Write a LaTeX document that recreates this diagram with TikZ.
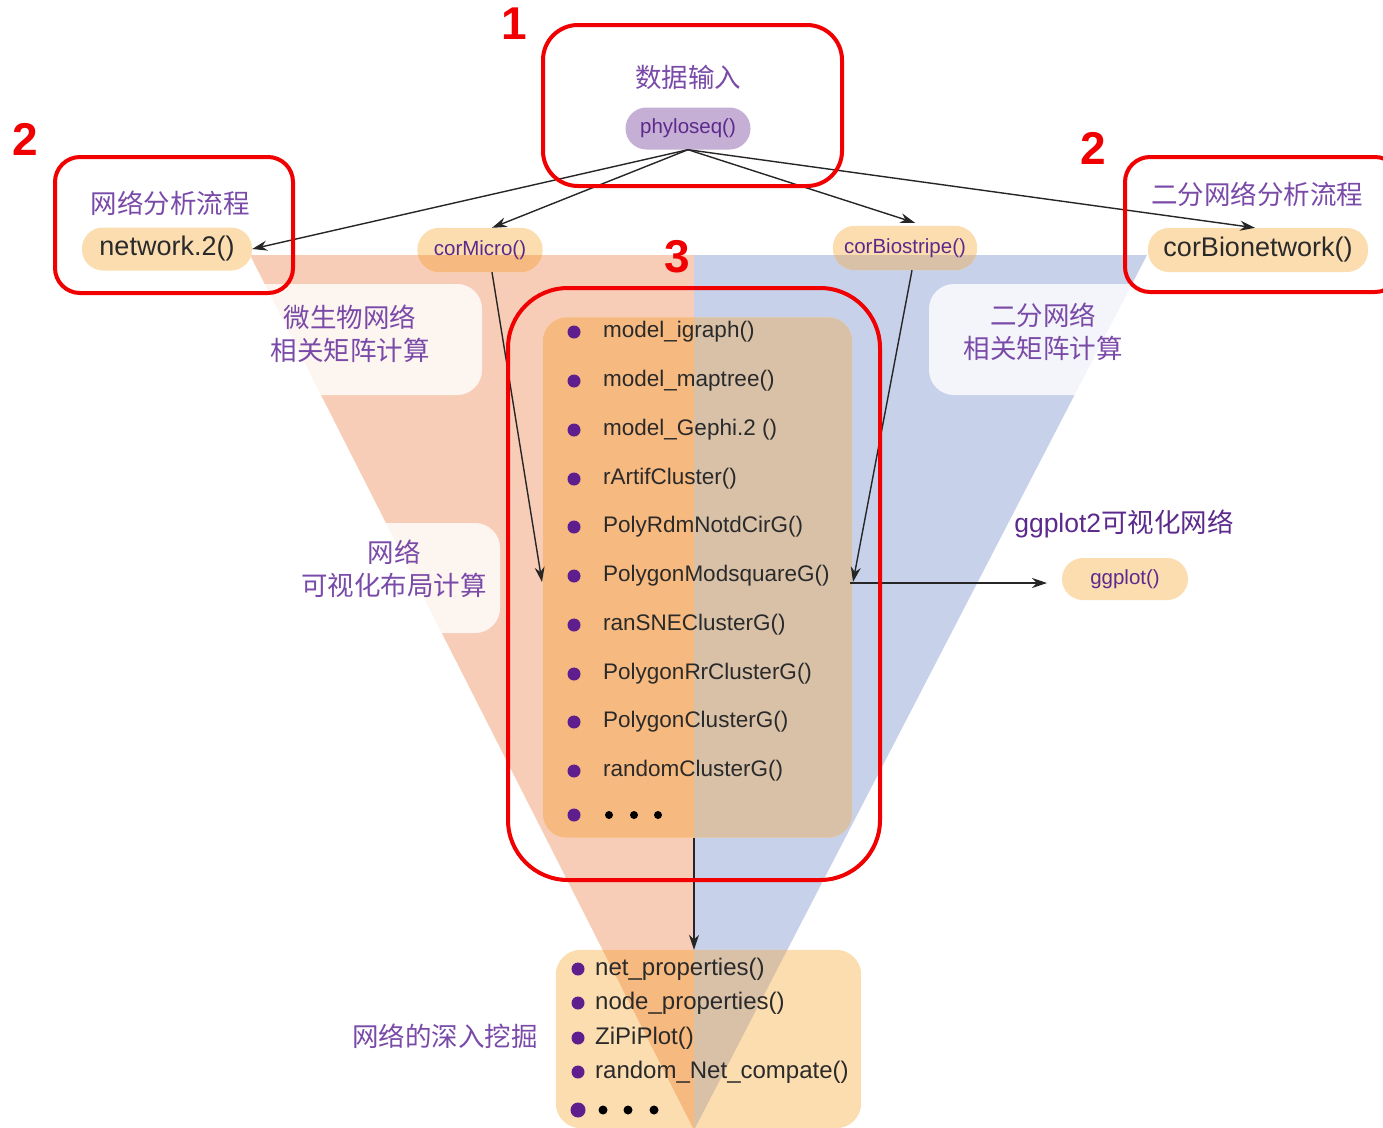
\documentclass[tikz,border=0pt]{standalone}
\usepackage{fontspec}
\setmainfont{Liberation Sans}
\newfontfamily\cjk{Noto Sans CJK SC}
\usetikzlibrary{arrows.meta,calc}
\definecolor{pinkT}{HTML}{F8CDB8}
\definecolor{blueT}{HTML}{C7D1EA}
\definecolor{peach}{HTML}{FCDDB0}
\definecolor{onPink}{HTML}{F6B97F}
\definecolor{onBlue}{HTML}{D9C1A8}
\definecolor{lilac}{HTML}{C6AFD5}
\definecolor{purp}{HTML}{5C2A8C}
\definecolor{bulpurp}{HTML}{5E1E8E}
\definecolor{cjkpurp}{HTML}{7A4AA8}
\definecolor{redbox}{HTML}{F00000}
\definecolor{txt}{HTML}{2A2A2A}
\pgfdeclarelayer{bg}
\pgfsetlayers{bg,main}
\newcommand\clipL{\clip (250,255) -- (694,255) -- (694,1130) -- cycle;}
\newcommand\clipR{\clip (694,255) -- (1147,255) -- (694,1130) -- cycle;}
\newcommand\mytint[2]{%
  \fill[peach, rounded corners=#2] (#1.south west) rectangle (#1.north east);
  \begin{scope}\clipL\fill[onPink, rounded corners=#2] (#1.south west) rectangle (#1.north east);\end{scope}
  \begin{scope}\clipR\fill[onBlue, rounded corners=#2] (#1.south west) rectangle (#1.north east);\end{scope}}
\tikzset{
  pill/.style={minimum height=42pt, inner sep=0pt, font=\fontsize{20.5}{24}\selectfont, text=purp},
  bigpill/.style={minimum height=43pt, inner sep=0pt, font=\fontsize{27}{32}\selectfont, text=txt, fill=peach, rounded corners=21pt},
  cjkl/.style={font=\cjk\fontsize{26.5}{33}\selectfont, text=cjkpurp, align=center, inner sep=0pt},
  bul/.style={circle, fill=bulpurp, minimum size=13pt, inner sep=0pt},
  item/.style={anchor=west, inner sep=0pt, font=\fontsize{22.5}{26}\selectfont, text=txt},
  bitem/.style={anchor=west, inner sep=0pt, font=\fontsize{24}{28}\selectfont, text=txt},
  arr/.style={-{Stealth[length=15pt,width=10pt]}, line width=1.4pt, black!85},
  redb/.style={draw=redbox, line width=4pt},
  wbox/.style={fill=white, fill opacity=0.8, inner sep=0pt},
  rednum/.style={font=\fontsize{46}{46}\selectfont\bfseries, text=redbox, inner sep=0pt}
}
\begin{document}
\begin{tikzpicture}[x=1pt,y=-1pt]
\useasboundingbox (0,0) rectangle (1383,1127);
\begin{pgfonlayer}{bg}
  \fill[white] (0,0) rectangle (1383,1127);
  \fill[pinkT] (250,255) -- (694,255) -- (694,1130) -- cycle;
  \fill[blueT] (694,255) -- (1147,255) -- (694,1130) -- cycle;
\end{pgfonlayer}
\coordinate (apex) at (694,1127);

% white label boxes
\node[wbox, rounded corners=25pt, minimum width=264pt, minimum height=111pt] (w1) at (350,339.5) {};
\node[wbox, rounded corners=25pt, minimum width=228pt, minimum height=111pt] (w2) at (1043,339.5) {};
\node[wbox, rounded corners=25pt, minimum width=212pt, minimum height=110pt] (w3) at (394,578) {};

% pills
\node[pill, fill=lilac, rounded corners=21pt, minimum width=125pt] (phy) at (688,128.5) {phyloseq()};
\node[bigpill, minimum width=170pt] (net) at (167,249) {network.2()};
\node[bigpill, minimum width=220pt, minimum height=44pt] (bnet) at (1258,250) {corBionetwork()};
\node[pill, minimum width=125pt, minimum height=44pt] (mic) at (480,250) {corMicro()};
\node[pill, minimum width=144pt, minimum height=44pt] (bio) at (905,248) {corBiostripe()};
\node[pill, fill=peach, rounded corners=21pt, minimum width=126pt] (gg) at (1125,579) {ggplot()};

% boxes
\node[minimum width=309pt, minimum height=520pt, inner sep=0pt] (lbox) at (697.5,577.5) {};
\node[minimum width=305pt, minimum height=178pt, inner sep=0pt] (bbox) at (708.5,1039) {};

\begin{pgfonlayer}{bg}
  \mytint{mic}{22pt}
  \mytint{bio}{22pt}
  \mytint{lbox}{24pt}
  \mytint{bbox}{25pt}
\end{pgfonlayer}

% labels
\node[cjkl] (t1) at (688,77) {数据输入};
\node[cjkl] (t2) at (170,203) {网络分析流程};
\node[cjkl] (t3) at (1257,194) {二分网络分析流程};
\node[cjkl] (t4) at (350,333.5) {微生物网络\\相关矩阵计算};
\node[cjkl] (t5) at (1043,331.5) {二分网络\\相关矩阵计算};
\node[cjkl] (t6) at (394,568.5) {网络\\可视化布局计算};
\node[cjkl] (t7) at (445,1036) {网络的深入挖掘};
\node[cjkl, text=purp] (t8) at (1124,524) {{\fontsize{26.5}{33}\selectfont\rmfamily ggplot2}可视化网络};

% list items
\foreach \n/\y/\t in {1/332/model\_igraph(),2/381/model\_maptree(),3/430/model\_Gephi.2 (),4/479/rArtifCluster(),5/527/PolyRdmNotdCirG(),6/576/PolygonModsquareG(),7/625/ranSNEClusterG(),8/674/PolygonRrClusterG(),9/722/PolygonClusterG(),10/771/randomClusterG()}{
  \node[bul] (b\n) at (574,\y) {};
  \node[item] (i\n) at (603,\y) {\t};
}
\node[bul] (b11) at (574,815) {};
\foreach \x in {609,634,658}{\fill[black] (\x,815) circle (4pt);}

\foreach \n/\y/\t in {1/969/net\_properties(),2/1003/node\_properties(),3/1038/ZiPiPlot(),4/1072/random\_Net\_compate()}{
  \node[bul] (c\n) at (578,\y) {};
  \node[bitem] (j\n) at (595,\y) {\t};
}
\node[bul, minimum size=15pt] (c5) at (578,1110) {};
\foreach \x in {603,628,654}{\fill[black] (\x,1110) circle (4.5pt);}

% connectors
\coordinate (lin) at (542,582);
\coordinate (rin) at (853,582);
\coordinate (gin) at (1047,583);
\draw[arr] (phy.south) -- (net.east);
\draw[arr] (phy.south) -- ($(mic.north)+(12,0)$);
\draw[arr] (phy.south) -- ($(bio.north)+(10,-3)$);
\draw[arr] (phy.south) -- ($(bnet.north)+(-3,0)$);
\draw[arr] ($(mic.south)+(12,0)$) -- (lin);
\draw[arr] ($(bio.south)+(7,0)$) -- (rin);
\draw[arr] ($(rin)+(-3,1)$) -- (gin);
\draw[arr] (lbox.south -| apex) -- (bbox.north -| apex);

% red highlight boxes
\draw[redb, rounded corners=35pt] (543,25) rectangle (842,186);
\draw[redb, rounded corners=25pt] (55,157) rectangle (293,293);
\draw[redb, rounded corners=25pt] (1125,157) rectangle (1400,292);
\draw[redb, rounded corners=60pt] (508,288) rectangle (880,880);

\node[rednum] (n1) at (514,24) {1};
\node[rednum] (n2) at (25,139) {2};
\node[rednum] (n3) at (1093,148) {2};
\node[rednum] (n4) at (677,257) {3};
\end{tikzpicture}
\end{document}
